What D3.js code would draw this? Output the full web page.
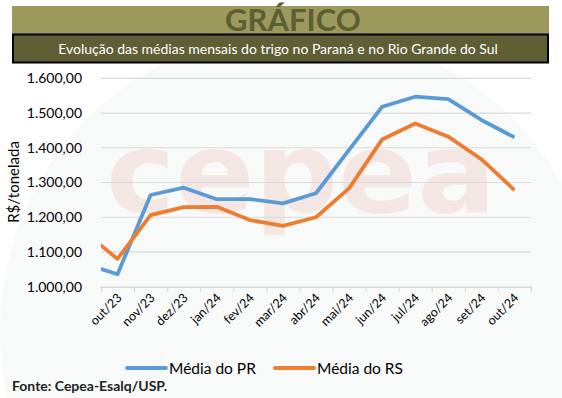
<!DOCTYPE html>
<html><head><meta charset="utf-8">
<script src="https://cdn.jsdelivr.net/npm/d3@7"></script>
<style>body{margin:0;background:#fff;}svg{display:block;font-family:Lato,"Open Sans",sans-serif;}</style>
</head><body><svg id="c" width="562" height="398"></svg>
<script>
// previous month (set/23) sits left of the plot and is clipped, as in the reference
const prevMonth = "set/23";
const months = ["out/23","nov/23","dez/23","jan/24","fev/24","mar/24","abr/24","mai/24","jun/24","jul/24","ago/24","set/24","out/24"];
const prPrev = 1066;
const rsPrev = 1158;
const mediaPR = [1036,1264,1285,1252,1252,1240,1269,1394,1518,1547,1540,1480,1430];
const mediaRS = [1080,1206,1229,1230,1192,1175,1200,1283,1424,1470,1432,1367,1278];
const yTicks = [1000,1100,1200,1300,1400,1500,1600];
const seriesNames = ["Média do PR","Média do RS"];
const colors = ["#5b9bd5","#ed7d31"];

const svg = d3.select("#c");
const fmt = v => d3.format(",.2f")(v).replace(/,/g,"#").replace(/\./g,",").replace(/#/g,".");

// faint background circle
svg.append("circle").attr("cx",300).attr("cy",330).attr("r",300).attr("fill","#f3f6f6").attr("opacity",0.6);

// header
svg.append("rect").attr("x",12).attr("y",6).attr("width",537).attr("height",29).attr("fill","#9b9a5c");
svg.append("text").attr("x",293).attr("y",31).attr("text-anchor","middle").attr("font-size",31)
  .attr("font-weight","bold").attr("fill","#5c5e33").text("GRÁFICO");
svg.append("rect").attr("x",13).attr("y",34.5).attr("width",535).attr("height",28).attr("fill","#5f5f36")
  .attr("stroke","#000").attr("stroke-width",2);
svg.append("text").attr("x",278).attr("y",53.5).attr("text-anchor","middle").attr("font-size",14)
  .attr("fill","#fff").text("Evolução das médias mensais do trigo no Paraná e no Rio Grande do Sul");

// watermark
svg.append("text").attr("x",106).attr("y",212).attr("font-size",112).attr("font-weight","bold")
  .attr("font-family","'DejaVu Sans',sans-serif").attr("textLength",390).attr("lengthAdjust","spacingAndGlyphs")
  .attr("fill","#e9a897").attr("opacity",0.22).text("cepea");

const pLeft = 101, pRight = 531, pTop = 78.3, pBottom = 286.7;
const x = d3.scaleLinear().domain([-0.5, months.length-0.5]).range([pLeft,pRight]);
const y = d3.scaleLinear().domain([1000,1600]).range([pBottom,pTop]);

// grid
svg.append("g").selectAll("line").data(yTicks.slice(1)).join("line")
  .attr("x1",pLeft).attr("x2",pRight).attr("y1",d=>y(d)).attr("y2",d=>y(d))
  .attr("stroke","#d9d9d9").attr("stroke-width",1.2);

// y axis labels
const yAxis = svg.append("g").attr("transform",`translate(${pLeft},0)`)
  .call(d3.axisLeft(y).tickValues(yTicks).tickFormat(fmt).tickSize(0).tickPadding(19));
yAxis.select(".domain").remove();
yAxis.selectAll("text").attr("font-size",14).attr("fill","#000").attr("font-family","Lato,sans-serif");

// x axis
const bounds = d3.range(months.length+1).map(i=>i-0.5);
const xg = svg.append("g").attr("transform",`translate(0,${pBottom})`)
  .call(d3.axisBottom(x).tickValues(bounds).tickSize(5).tickFormat(""));
xg.select(".domain").attr("stroke","#d9d9d9").attr("stroke-width",1.5);
xg.selectAll(".tick line").attr("stroke","#d9d9d9").attr("stroke-width",1.2);
svg.append("g").selectAll("text").data(months).join("text")
  .attr("transform",(d,i)=>`translate(${x(i)+5},${pBottom+12}) rotate(-45)`)
  .attr("text-anchor","end").attr("font-size",12.5).attr("fill","#000").text(d=>d);

// y title
svg.append("text").attr("transform","translate(19,182) rotate(-90)").attr("text-anchor","middle")
  .attr("font-size",15).attr("fill","#000").text("R$/tonelada");

// lines
svg.append("clipPath").attr("id","clip").append("rect").attr("x",pLeft).attr("y",0).attr("width",pRight-pLeft).attr("height",398);
const line = d3.line().x(d=>x(d[0])).y(d=>y(d[1]));
const seriesData = [
  [[-1,prPrev]].concat(mediaPR.map((v,i)=>[i,v])),
  [[-1,rsPrev]].concat(mediaRS.map((v,i)=>[i,v]))
];
svg.append("g").attr("clip-path","url(#clip)").selectAll("path").data(seriesData).join("path")
  .attr("d",line).attr("fill","none").attr("stroke",(d,i)=>colors[i]).attr("stroke-width",3.8)
  .attr("stroke-linejoin","round");

// legend
const lg = svg.append("g");
const lx = [127,275];
seriesNames.forEach((n,i)=>{
  lg.append("line").attr("x1",lx[i]).attr("x2",lx[i]+39).attr("y1",368).attr("y2",368)
    .attr("stroke",colors[i]).attr("stroke-width",3.8).attr("stroke-linecap","round");
  lg.append("text").attr("x",lx[i]+42).attr("y",373.5).attr("font-size",15.5).attr("fill","#000").text(n);
});

svg.append("text").attr("x",12).attr("y",390.5).attr("font-size",14).attr("font-weight","bold")
  .attr("fill","#222").text("Fonte: Cepea-Esalq/USP.");
</script></body></html>
